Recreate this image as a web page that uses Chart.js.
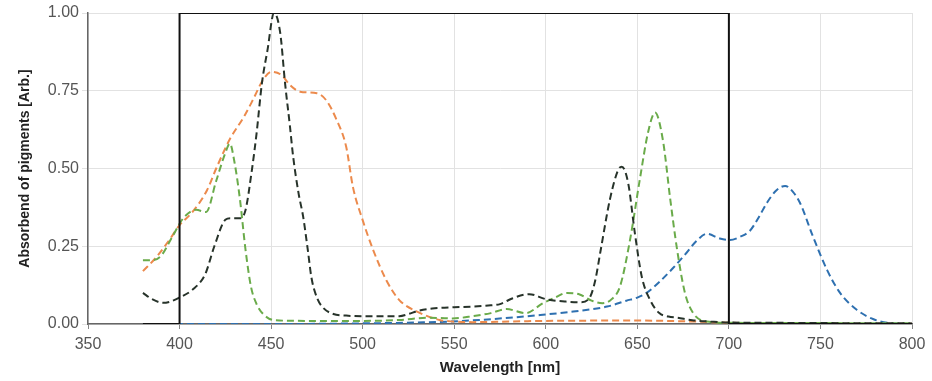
<!DOCTYPE html>
<html>
<head>
<meta charset="utf-8">
<script src="https://cdn.jsdelivr.net/npm/chart.js@4/dist/chart.umd.min.js"></script>
<style>
html,body{margin:0;padding:0;background:#fff;}
#wrap{width:932px;height:381px;position:relative;}
</style>
</head>
<body>
<div id="wrap"><canvas id="c" width="932" height="381"></canvas></div>
<script>
// Wavelength / absorbance readings per pigment
const darkX = [380,385,391,395,400,407,414,419,425,428,433,436,439.5,442,445,448,451.6,455,457.6,460.3,462,465,467.5,470,472,475,478,484,491,500,510,520,525,530,538,550,560,570,575,582,591,600,611,619,624,627,630,635,639.5,641.5,645,648.7,652.5,657,662,667,672,680,690,700,720,750,800];
const darkY = [0.10,0.08,0.068,0.072,0.085,0.11,0.16,0.25,0.335,0.34,0.34,0.366,0.495,0.61,0.775,0.88,1.0,0.935,0.775,0.635,0.54,0.42,0.345,0.24,0.15,0.085,0.055,0.032,0.027,0.025,0.025,0.025,0.032,0.042,0.05,0.054,0.056,0.06,0.064,0.083,0.096,0.08,0.072,0.07,0.085,0.14,0.238,0.40,0.495,0.506,0.453,0.29,0.15,0.077,0.035,0.024,0.02,0.012,0.008,0.005,0.004,0.003,0.002];

const greenX = [380,385,390,396,402,409,414.5,420,425,427.5,430,433,436,439,442,446,452,470,500,520,536,549,560,570,578.5,589,598.5,605,611.5,618.5,625,631,636,640.5,646,651.5,656,659.7,664,668,671.7,676,680.5,688,700,750,800];
const greenY = [0.205,0.205,0.22,0.28,0.34,0.367,0.36,0.46,0.55,0.58,0.52,0.40,0.24,0.12,0.065,0.03,0.012,0.01,0.01,0.013,0.02,0.018,0.025,0.035,0.048,0.035,0.067,0.085,0.10,0.095,0.075,0.067,0.08,0.12,0.27,0.47,0.62,0.68,0.59,0.40,0.24,0.10,0.035,0.008,0.004,0.003,0.002];

const orangeX = [380,387.5,395,400,407,415,420,425,427.5,435,440,445.6,450.3,455.8,460,465.8,475,480,485.8,491,494.7,500,505.6,513,520,529.7,542,549,560,580,600,650,680,700,720,800];
const orangeY = [0.17,0.216,0.275,0.318,0.36,0.43,0.50,0.565,0.595,0.665,0.72,0.785,0.811,0.80,0.77,0.747,0.742,0.72,0.656,0.57,0.44,0.334,0.24,0.14,0.077,0.04,0.013,0.008,0.006,0.008,0.01,0.011,0.008,0.004,0.002,0.001];

const blueX = [380,450,500,530,548,578,597,615,633.5,644,650,655,662,669.5,677,682,688,695,700.6,706,711.5,716,720.8,726,730.7,735,738.8,746,753.6,760.7,770,778.7,788,800];
const blueY = [0,0,0.002,0.005,0.008,0.019,0.029,0.04,0.056,0.075,0.085,0.10,0.135,0.18,0.23,0.265,0.29,0.275,0.27,0.28,0.30,0.34,0.39,0.43,0.444,0.425,0.39,0.28,0.174,0.10,0.045,0.016,0.003,0];

const lightX = [380,400,400,700,700,800];
const lightY = [0,0,1,1,0,0];

const xTicks = [350,400,450,500,550,600,650,700,750,800];
const yTicks = [0,0.25,0.5,0.75,1.0];

function pts(xs, ys){ return xs.map((x,i)=>({x:x,y:ys[i]})); }

const FONT = "'Liberation Sans Narrow','Arial Narrow','Liberation Sans',Arial,sans-serif";

function dashed(label, xs, ys, color){
  return {label, data: pts(xs, ys), borderColor: color, backgroundColor: color,
    borderWidth: 2, borderDash: [7,4], pointRadius: 0, fill: false,
    cubicInterpolationMode: 'monotone', order: 2};
}

new Chart(document.getElementById('c'), {
  type: 'line',
  data: {
    datasets: [
      {label:'Light', data: pts(lightX, lightY), borderColor:'#111', borderWidth:2, pointRadius:0, tension:0, fill:false, order:1},
      dashed('Pigment A', darkX, darkY, '#27332a'),
      dashed('Pigment B', greenX, greenY, '#6aab4a'),
      dashed('Carotenoid', orangeX, orangeY, '#ec8a4c'),
      dashed('Far-red', blueX, blueY, '#2e70b0')
    ]
  },
  options: {
    responsive: false,
    animation: false,
    layout: {padding: {left: 0, right: 20, top: 13, bottom: 0}},
    plugins: {legend: {display:false}, tooltip: {enabled:false}},
    scales: {
      x: {
        type: 'linear', min: 350, max: 800,
        afterBuildTicks: s => { s.ticks = xTicks.map(v=>({value:v})); },
        afterFit: s => { s.height = 57; },
        grid: {color:'#e2e2e2', lineWidth:1, tickLength:5, tickColor:'#888', drawTicks:true},
        border: {color:'#666', width:1.5},
        ticks: {color:'#555', font:{family:FONT, size:16}, padding:6, maxRotation:0},
        title: {display:true, text:'Wavelength [nm]', color:'#222', font:{family:FONT, size:15, weight:'bold'}, padding:{top:4,bottom:4}}
      },
      y: {
        type: 'linear', min: 0, max: 1,
        afterBuildTicks: s => { s.ticks = yTicks.map(v=>({value:v})); },
        afterFit: s => { s.width = 88; },
        grid: {color:'#e2e2e2', lineWidth:1, tickLength:6},
        border: {color:'#666', width:1.5},
        ticks: {color:'#555', font:{family:FONT, size:16}, padding:3, callback: v => Number(v).toFixed(2)},
        title: {display:true, text:'Absorbend of pigments [Arb.]', color:'#222', font:{family:FONT, size:14, weight:'bold'}, padding:{top:17,bottom:4}}
      }
    }
  }
});
</script>
</body>
</html>
